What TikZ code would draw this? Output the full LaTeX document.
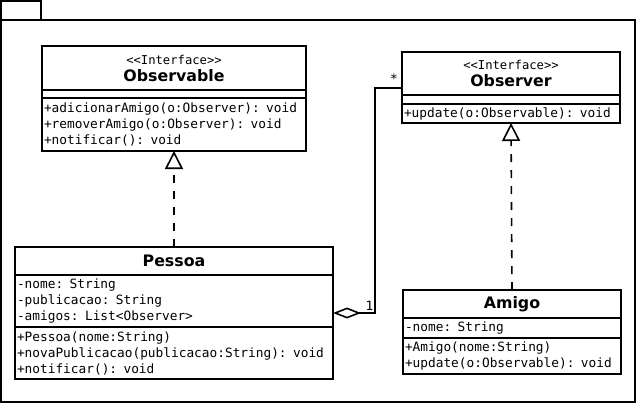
\documentclass[tikz,border=0pt]{standalone}
\usepackage{fontspec}
\setmainfont{DejaVu Sans}
\setmonofont{DejaVu Sans Mono}
\usetikzlibrary{positioning,arrows.meta}

\newcommand{\stereo}[1]{{\ttfamily\fontsize{12.2}{17}\selectfont <{}<#1>{}>}}
\newcommand{\cname}[1]{{\fontsize{15.8}{17}\selectfont\bfseries #1}}

\begin{document}
\begin{tikzpicture}[x=1pt,y=-1pt,line width=1.6pt,
    head/.style={draw,outer sep=0pt,inner sep=0pt,align=center,anchor=north west,
      font=\fontsize{12}{17}\selectfont},
    part/.style={draw,outer sep=0pt,inner xsep=2pt,inner ysep=0pt,align=left,
      font=\ttfamily\fontsize{12.8}{16}\selectfont},
    realize/.style={dash pattern=on 8pt off 8pt,-{Triangle[open,length=18pt,width=18pt]}},
    aggreg/.style={{Diamond[open,length=28pt,width=11pt]}-}]
        \useasboundingbox (0,0) rectangle (638,405);
        % package frame
        \draw (1,1) rectangle (41,20);
        \draw (1,20) rectangle (635,402);

        % Observable
        \node[head,minimum width=264pt,minimum height=44pt] (obsablehead) at (42,46)
              {\stereo{Interface}\\\cname{Observable}};
        \node[part,below=0pt of obsablehead,text width=260pt,minimum height=8pt] (obsableattr) {};
        \node[part,below=0pt of obsableattr,text width=260pt,minimum height=53pt] (obsablemeth)
              {+adicionarAmigo(o:Observer): void\\+removerAmigo(o:Observer): void\\+notificar(): void};

        % Observer
        \node[head,minimum width=218pt,minimum height=43pt] (observerhead) at (402,52)
              {\stereo{Interface}\\\cname{Observer}};
        \node[part,below=0pt of observerhead,text width=214pt,minimum height=9pt] (observerattr) {};
        \node[part,below=0pt of observerattr,text width=214pt,minimum height=19pt] (observermeth)
              {+update(o:Observable): void};

        % Pessoa
        \node[head,minimum width=318pt,minimum height=28pt] (pessoahead) at (15,247) {\cname{Pessoa}};
        \node[part,below=0pt of pessoahead,text width=314pt,minimum height=52pt] (pessoaattr)
              {-nome: String\\-publicacao: String\\-amigos: List<Observer>};
        \node[part,below=0pt of pessoaattr,text width=314pt,minimum height=52pt] (pessoameth)
              {+Pessoa(nome:String)\\+novaPublicacao(publicacao:String): void\\+notificar(): void};

        % Amigo
        \node[head,minimum width=218pt,minimum height=28pt] (amigohead) at (403,290) {\cname{Amigo}};
        \node[part,below=0pt of amigohead,text width=214pt,minimum height=20pt] (amigoattr)
              {-nome: String};
        \node[part,below=0pt of amigoattr,text width=214pt,minimum height=36pt] (amigometh)
              {+Amigo(nome:String)\\+update(o:Observable): void};

        % relations
        \draw[realize] (pessoahead.north) -- (obsablemeth.south);
        \draw[realize] (amigohead.north) -- (observermeth.south);
        \draw[aggreg] ([yshift=-12pt]pessoaattr.east) -- ++(42,0)
              node[pos=.87,above=-2pt,font=\ttfamily\fontsize{12.8}{16}\selectfont] (one) {1}
              |- ([yshift=-14.5pt]observerhead.west)
              node[above left,font=\ttfamily\fontsize{12.8}{16}\selectfont] (many) {*};
      \end{tikzpicture}
\end{document}
